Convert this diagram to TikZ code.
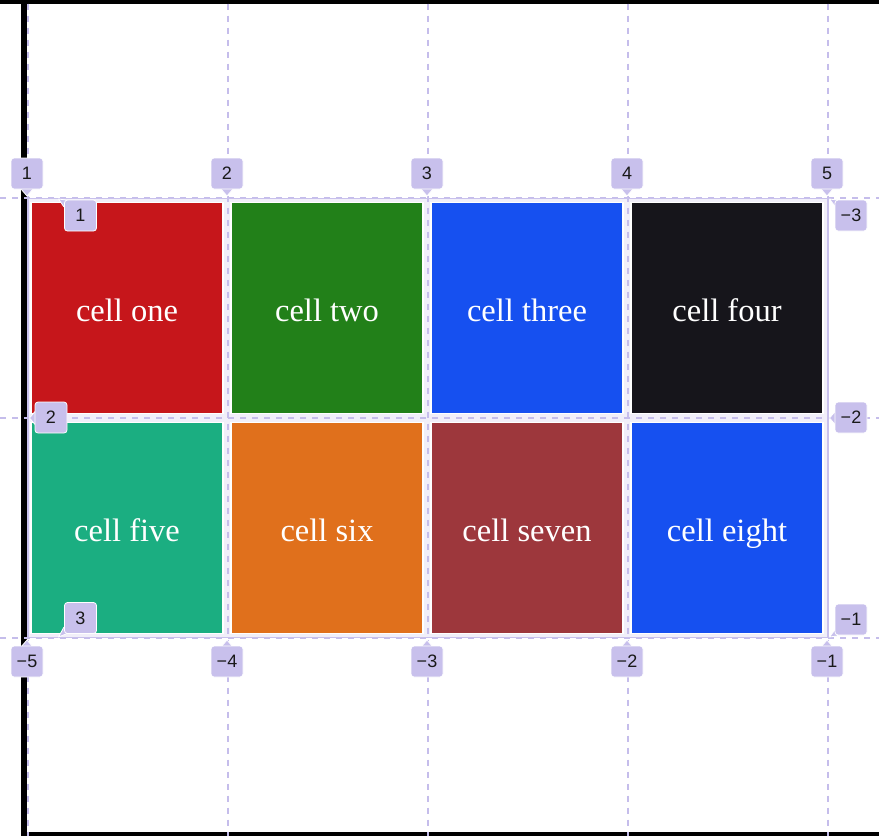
\documentclass[tikz,border=0pt]{standalone}
\usepackage{fontspec}
\setmainfont{Liberation Serif}
\newfontfamily\lblfont{Liberation Sans}
\definecolor{lav}{HTML}{C8C0EC}
\definecolor{lavline}{HTML}{C5BDEB}
\definecolor{gridbg}{HTML}{F1EFF9}
\definecolor{cred}{HTML}{C6161B}
\definecolor{cgreen}{HTML}{228019}
\definecolor{cblue}{HTML}{1650F0}
\definecolor{cdark}{HTML}{16151B}
\definecolor{cteal}{HTML}{1BAE81}
\definecolor{corange}{HTML}{E0701C}
\definecolor{cbrown}{HTML}{9D373C}
\begin{document}
\begin{tikzpicture}[x=1pt,y=-1pt,
  gline/.style={draw=lavline,line width=1.6pt,dash pattern=on 6pt off 6pt},
  cellbox/.style={draw=white,line width=1.2pt,minimum width=192pt,minimum height=211pt,inner sep=0pt,text=white,text height=34pt,text depth=7pt,font=\fontsize{32.5}{36}\selectfont},
  lbl/.style={draw=white,line width=0.8pt,fill=lav,rounded corners=3pt,minimum width=32pt,minimum height=31pt,inner sep=0pt,text=black!90,font=\lblfont\fontsize{18}{20}\selectfont},
  ptr/.style={fill=lav,draw=white,line width=0.8pt,line join=round}]
\useasboundingbox (0,0) rectangle (879,836);
% container border
\fill[black] (0,0) rectangle (879,3.5);
\fill[black] (21,0) rectangle (26.5,836);
\fill[black] (21,832.3) rectangle (879,836);
% grid area
\fill[gridbg] (28,198) rectangle (828,638);
% dashed grid lines
\foreach \x in {28,228,428,628,828} \draw[gline] (\x,3.5) -- (\x,836);
\foreach \y in {198,418,638} \draw[gline] (0,\y) -- (879,\y);
\draw[lav,line width=1.2pt] (28,198.5) rectangle (828,637.5);
% cells
\node[cellbox,fill=cred]    (c1) at (127,308) {cell one};
\node[cellbox,fill=cgreen]  (c2) at (327,308) {cell two};
\node[cellbox,fill=cblue]   (c3) at (527,308) {cell three};
\node[cellbox,fill=cdark]   (c4) at (727,308) {cell four};
\node[cellbox,fill=cteal]   (c5) at (127,528) {cell five};
\node[cellbox,fill=corange] (c6) at (327,528) {cell six};
\node[cellbox,fill=cbrown]  (c7) at (527,528) {cell seven};
\node[cellbox,fill=cblue]   (c8) at (727,528) {cell eight};
% top column labels
\foreach \x/\t [count=\i] in {27/1,227/2,427/3,627/4,827/5}{
  \draw[ptr] (\x-6,189) -- (\x,196) -- (\x+6,189);
  \node[lbl] (top\i) at (\x,173.5) {\t};
}
% bottom column labels
\foreach \x/\t [count=\i] in {27/{−5},227/{−4},427/{−3},627/{−2},827/{−1}}{
  \draw[ptr] (\x-6,647) -- (\x,640) -- (\x+6,647);
  \node[lbl] (bot\i) at (\x,661.5) {\t};
}
% left row labels
\draw[ptr] (66,200) -- (58.5,199) -- (64,207);
\node[lbl] (l1) at (80.5,215.5) {1};
\draw[ptr] (35.5,411) -- (29.5,418) -- (35.5,425);
\node[lbl] (l2) at (51,417.5) {2};
\draw[ptr] (66,634) -- (58.5,637) -- (64,627);
\node[lbl] (l3) at (80.5,618) {3};
% right row labels
\draw[ptr] (837,200) -- (829.5,199) -- (835.5,207);
\node[lbl] (r1) at (851,215.5) {−3};
\draw[ptr] (835.5,411) -- (829.5,418) -- (835.5,425);
\node[lbl] (r2) at (851,417.5) {−2};
\draw[ptr] (837,636) -- (829.5,637) -- (835.5,629);
\node[lbl] (r3) at (851,619.5) {−1};
\end{tikzpicture}
\end{document}
